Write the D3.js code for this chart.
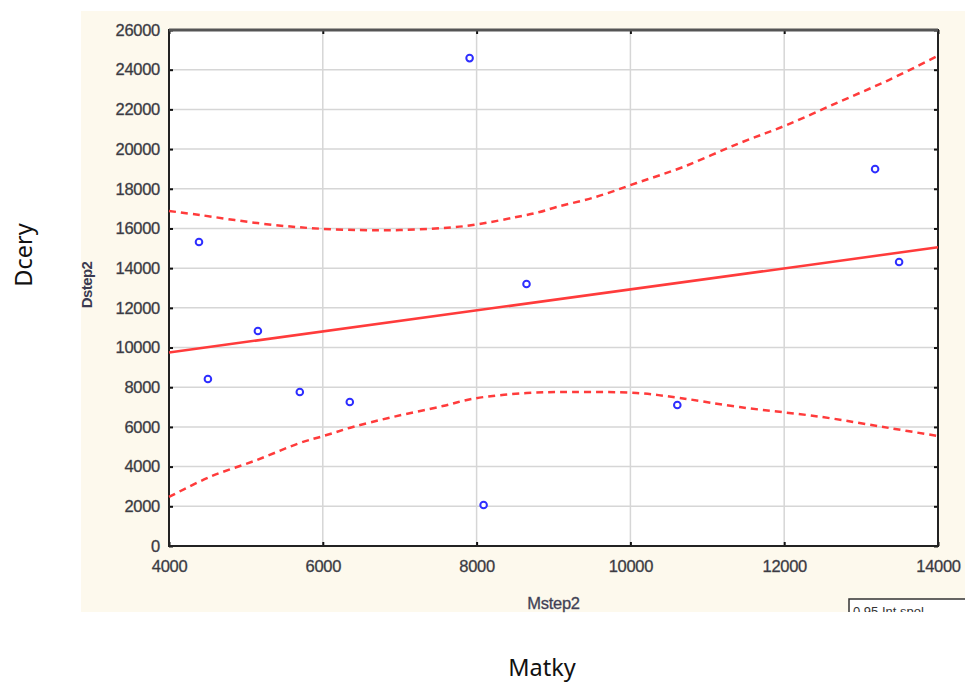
<!DOCTYPE html>
<html lang="en">
<head>
<meta charset="utf-8">
<title>Dcery vs Matky</title>
<script src="https://d3js.org/d3.v7.min.js"></script>
<style>
  body { margin: 0; background: #ffffff; }
  svg { display: block; }
</style>
</head>
<body>
<script>
// tick values
var xTicks = [4000, 6000, 8000, 10000, 12000, 14000];
var yTicks = [0, 2000, 4000, 6000, 8000, 10000, 12000, 14000, 16000, 18000, 20000, 22000, 24000, 26000];

// observed points (Mstep2, Dstep2)
var ptX = [4390, 4506, 5156, 5701, 6351, 7909, 8091, 8649, 10610, 13182, 13494];
var ptY = [15315, 8413, 10831, 7758, 7254, 24584, 2065, 13199, 7103, 18992, 14307];

// fitted line, read at both ends
var fitX = [4000, 14000];
var fitY = [9750, 15050];

// 0.95 confidence band
var upX = [4000, 4400, 5150, 5830, 6480, 7000, 7560, 7950, 8650, 8820, 9040, 9560, 10080, 10680, 11420, 12030, 12710, 13360, 14000];
var upY = [16880, 16680, 16270, 16020, 15920, 15920, 16020, 16170, 16680, 16830, 17080, 17600, 18290, 19090, 20300, 21210, 22370, 23480, 24700];
var loX = [4000, 4530, 5140, 5700, 6050, 6390, 6910, 7560, 7950, 8650, 9250, 10080, 10640, 11420, 12490, 13360, 14000];
var loY = [2470, 3480, 4330, 5190, 5590, 6000, 6500, 7050, 7420, 7710, 7760, 7710, 7460, 7000, 6500, 5950, 5540];

var w = 965, h = 684;
var pL = 169, pR = 938, pT = 30, pB = 546;

var svg = d3.select("body").append("svg").attr("width", w).attr("height", h);

// cream panel
svg.append("defs").append("clipPath").attr("id", "panel")
  .append("rect").attr("x", 81).attr("y", 11).attr("width", 884).attr("height", 601);
svg.append("rect").attr("x", 81).attr("y", 11).attr("width", 884).attr("height", 601).attr("fill", "#fdf9ed");

var x = d3.scaleLinear().domain([4000, 14000]).range([pL, pR]);
var y = d3.scaleLinear().domain([0, 26000]).range([pB, pT]);

// plot area
svg.append("rect").attr("x", pL).attr("y", pT).attr("width", pR - pL).attr("height", pB - pT).attr("fill", "white");

// grid
svg.append("g").selectAll("line").data(xTicks.slice(1, -1)).enter().append("line")
  .attr("x1", d => x(d)).attr("x2", d => x(d)).attr("y1", pT).attr("y2", pB)
  .attr("stroke", "#d6d6d6").attr("stroke-width", 1.5);
svg.append("g").selectAll("line").data(yTicks.slice(1, -1)).enter().append("line")
  .attr("x1", pL).attr("x2", pR).attr("y1", d => y(d)).attr("y2", d => y(d))
  .attr("stroke", "#d6d6d6").attr("stroke-width", 1.5);

// axes with inward ticks
var font = "'Liberation Sans', Arial, sans-serif";
var ax = svg.append("g").attr("transform", "translate(0," + pB + ")")
  .call(d3.axisBottom(x).tickValues(xTicks).tickFormat(d3.format("d")).tickSizeInner(-4).tickSizeOuter(0).tickPadding(14));
var ay = svg.append("g").attr("transform", "translate(" + pL + ",0)")
  .call(d3.axisLeft(y).tickValues(yTicks).tickFormat(d3.format("d")).tickSizeInner(-4).tickSizeOuter(0).tickPadding(9));
svg.append("g").attr("transform", "translate(0," + pT + ")")
  .call(d3.axisTop(x).tickValues(xTicks).tickFormat("").tickSizeInner(-4).tickSizeOuter(0));
svg.append("g").attr("transform", "translate(" + pR + ",0)")
  .call(d3.axisRight(y).tickValues(yTicks).tickFormat("").tickSizeInner(-4).tickSizeOuter(0));
svg.selectAll(".domain").remove();
svg.selectAll(".tick line").attr("stroke", "#111").attr("stroke-width", 2);
[ax, ay].forEach(function (g) {
  g.selectAll("text").attr("fill", "#333").attr("stroke", "#556").attr("stroke-width", 0.35)
    .style("font-family", font).style("font-size", "16.5px").style("letter-spacing", "-0.3px");
});

// frame
svg.append("rect").attr("x", pL).attr("y", pT).attr("width", pR - pL).attr("height", pB - pT)
  .attr("fill", "none").attr("stroke", "#222").attr("stroke-width", 2);
svg.append("line").attr("x1", pL).attr("x2", pR).attr("y1", pT).attr("y2", pT)
  .attr("stroke", "#555").attr("stroke-width", 3);

// band and fit
var line = d3.line().x(d => x(d[0])).y(d => y(d[1])).curve(d3.curveCatmullRom);
svg.append("path").datum(d3.zip(upX, upY)).attr("d", line)
  .attr("fill", "none").attr("stroke", "#ff3b3b").attr("stroke-width", 2.5).attr("stroke-dasharray", "7,5");
svg.append("path").datum(d3.zip(loX, loY)).attr("d", line)
  .attr("fill", "none").attr("stroke", "#ff3b3b").attr("stroke-width", 2.5).attr("stroke-dasharray", "7,5");
svg.append("path").datum(d3.zip(fitX, fitY)).attr("d", d3.line().x(d => x(d[0])).y(d => y(d[1])))
  .attr("fill", "none").attr("stroke", "#ff3b3b").attr("stroke-width", 2.5);

// points
svg.append("g").selectAll("circle").data(d3.zip(ptX, ptY)).enter().append("circle")
  .attr("cx", d => x(d[0])).attr("cy", d => y(d[1])).attr("r", 3.3)
  .attr("fill", "white").attr("stroke", "#2e2eff").attr("stroke-width", 2);

// inner axis titles
svg.append("text").attr("x", (pL + pR) / 2).attr("y", 609).attr("text-anchor", "middle")
  .style("font-family", font).style("font-size", "16.5px").style("letter-spacing", "-0.3px")
  .attr("fill", "#3a3a50").attr("stroke", "#556").attr("stroke-width", 0.35)
  .text("Mstep2");
svg.append("g").attr("clip-path", "url(#panel)")
  .append("text").attr("transform", "translate(92,285) rotate(-90)").attr("text-anchor", "middle")
  .style("font-family", font).style("font-size", "15px").style("font-weight", "bold").style("letter-spacing", "-0.6px")
  .attr("fill", "#3a3a50").text("Dstep2");

// clipped legend box
var leg = svg.append("g").attr("clip-path", "url(#panel)");
leg.append("rect").attr("x", 849).attr("y", 599).attr("width", 130).attr("height", 30)
  .attr("fill", "white").attr("stroke", "#333").attr("stroke-width", 1.5);
leg.append("text").attr("x", 853).attr("y", 616).style("font-family", font).style("font-size", "13px")
  .attr("fill", "#333").text("0.95 Int.spol.");

// outer titles
svg.append("text").attr("transform", "translate(32,255) rotate(-90)").attr("text-anchor", "middle")
  .style("font-family", "'Noto Sans', 'Open Sans', sans-serif").style("font-size", "23.5px").attr("fill", "#111").text("Dcery");
svg.append("text").attr("x", 542).attr("y", 676).attr("text-anchor", "middle")
  .style("font-family", "'Noto Sans', 'Open Sans', sans-serif").style("font-size", "23.5px").attr("fill", "#111").text("Matky");
</script>
</body>
</html>
